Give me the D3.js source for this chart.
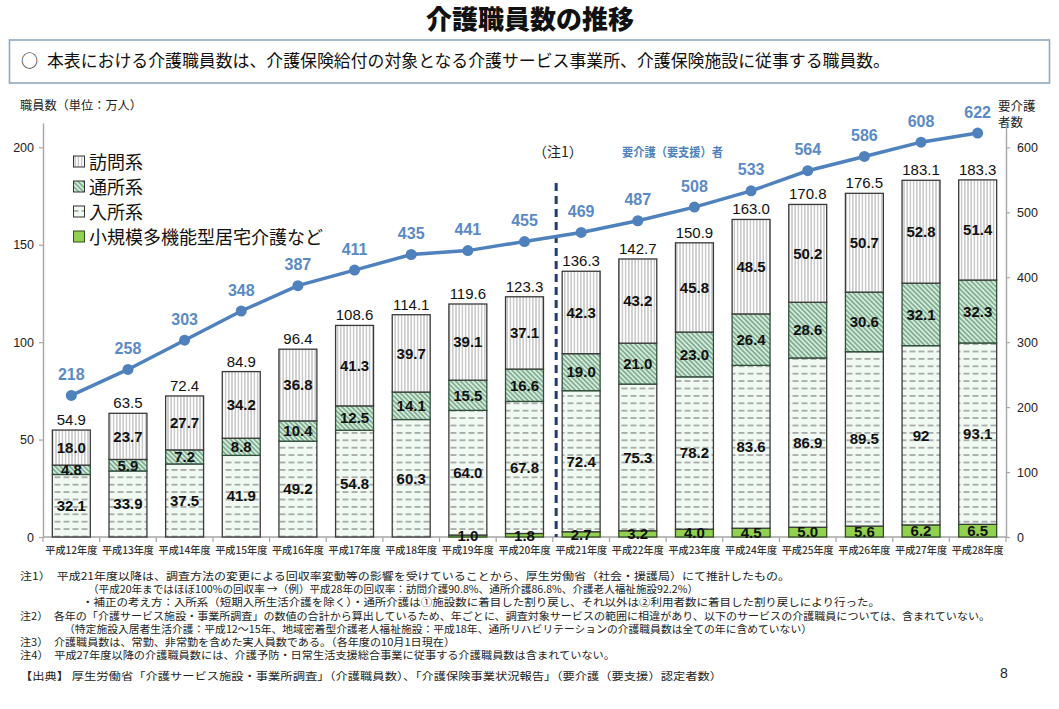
<!DOCTYPE html>
<html><head><meta charset="utf-8">
<script src="https://cdn.jsdelivr.net/npm/d3@7/dist/d3.min.js"></script>
<style>
html,body{margin:0;padding:0;background:#fff;}
svg{display:block;}
</style></head>
<body>
<svg id="chart" width="1059" height="709"></svg>
<script>
// ---------- DATA ----------
const categories = ["平成12年度","平成13年度","平成14年度","平成15年度","平成16年度","平成17年度","平成18年度","平成19年度","平成20年度","平成21年度","平成22年度","平成23年度","平成24年度","平成25年度","平成26年度","平成27年度","平成28年度"];
const homeCare    = ["18.0","23.7","27.7","34.2","36.8","41.3","39.7","39.1","37.1","42.3","43.2","45.8","48.5","50.2","50.7","52.8","51.4"]; // 訪問系
const dayCare     = ["4.8","5.9","7.2","8.8","10.4","12.5","14.1","15.5","16.6","19.0","21.0","23.0","26.4","28.6","30.6","32.1","32.3"]; // 通所系
const residential = ["32.1","33.9","37.5","41.9","49.2","54.8","60.3","64.0","67.8","72.4","75.3","78.2","83.6","86.9","89.5","92","93.1"]; // 入所系
const smallMulti  = ["","","","","","","","1.0","1.8","2.7","3.2","4.0","4.5","5.0","5.6","6.2","6.5"]; // 小規模多機能型居宅介護など
const totals      = ["54.9","63.5","72.4","84.9","96.4","108.6","114.1","119.6","123.3","136.3","142.7","150.9","163.0","170.8","176.5","183.1","183.3"];
const careRecipients = [218,258,303,348,387,411,435,441,455,469,487,508,533,564,586,608,622]; // 要介護(要支援)者
const leftTicks  = [0,50,100,150,200];
const rightTicks = [0,100,200,300,400,500,600];
const seriesNames = ["訪問系","通所系","入所系","小規模多機能型居宅介護など"];
const notes = [
  "注1）　平成21年度以降は、調査方法の変更による回収率変動等の影響を受けていることから、厚生労働省（社会・援護局）にて推計したもの。",
  "（平成20年まではほぼ100%の回収率 →（例）平成28年の回収率：訪問介護90.8%、通所介護86.8%、介護老人福祉施設92.2%）",
  "・補正の考え方：入所系（短期入所生活介護を除く）・通所介護は①施設数に着目した割り戻し、それ以外は②利用者数に着目した割り戻しにより行った。",
  "注2）　各年の「介護サービス施設・事業所調査」の数値の合計から算出しているため、年ごとに、調査対象サービスの範囲に相違があり、以下のサービスの介護職員については、含まれていない。",
  "（特定施設入居者生活介護：平成12～15年、地域密着型介護老人福祉施設：平成18年、通所リハビリテーションの介護職員数は全ての年に含めていない）",
  "注3）　介護職員数は、常勤、非常勤を含めた実人員数である。（各年度の10月1日現在）",
  "注4）　平成27年度以降の介護職員数には、介護予防・日常生活支援総合事業に従事する介護職員数は含まれていない。",
  "【出典】 厚生労働省「介護サービス施設・事業所調査」（介護職員数）、「介護保険事業状況報告」（要介護（要支援）認定者数）"
];

// ---------- SETUP ----------
const svg = d3.select("#chart");
const JP = "'Noto Sans CJK JP','Noto Sans',sans-serif";
const NUM = "'Liberation Sans',Arial,sans-serif";
const NARROW = "'Liberation Sans Narrow','Arial Narrow','Liberation Sans',sans-serif";

const x = d3.scaleBand().domain(categories).range([43, 1006]).paddingInner(0.33).paddingOuter(0.165);
const yL = d3.scaleLinear().domain([0, 212.5]).range([537, 123]);
const yR = d3.scaleLinear().domain([0, 637.5]).range([537, 123]);

// patterns
const defs = svg.append("defs");
const pHome = defs.append("pattern").attr("id","pHome").attr("patternUnits","userSpaceOnUse").attr("width",3.2).attr("height",10);
pHome.append("rect").attr("width",3.2).attr("height",10).attr("fill","#ffffff");
pHome.append("line").attr("x1",1.6).attr("x2",1.6).attr("y1",0).attr("y2",10).attr("stroke","#8a8a8a").attr("stroke-width",0.8);

const pDay = defs.append("pattern").attr("id","pDay").attr("patternUnits","userSpaceOnUse").attr("width",3.4).attr("height",10).attr("patternTransform","rotate(-45)");
pDay.append("rect").attr("width",3.4).attr("height",10).attr("fill","#d3ecd9");
pDay.append("line").attr("x1",1.7).attr("x2",1.7).attr("y1",0).attr("y2",10).attr("stroke","#3d7558").attr("stroke-width",0.9);

const pRes = defs.append("pattern").attr("id","pRes").attr("patternUnits","userSpaceOnUse").attr("width",9).attr("height",7.4);
pRes.append("rect").attr("width",9).attr("height",7.4).attr("fill","#f1f9f3");
pRes.append("line").attr("x1",0.5).attr("x2",6.5).attr("y1",3.7).attr("y2",3.7).attr("stroke","#555").attr("stroke-width",0.9);

const fills = {home:"url(#pHome)", day:"url(#pDay)", res:"url(#pRes)", small:"#92d050"};
const strokes = {home:"#3a3a3a", day:"#2f4f3a", res:"#3a3a3a", small:"#2f4f1f"};

// ---------- TITLE & BOX ----------
svg.append("text").attr("x",530).attr("y",29).attr("text-anchor","middle")
  .attr("font-family",JP).attr("font-weight","900").attr("font-size",26).attr("fill","#111").text("介護職員数の推移");
svg.append("rect").attr("x",9.5).attr("y",40).attr("width",1040).attr("height",43)
  .attr("fill","#fff").attr("stroke","#8fa8bf").attr("stroke-width",1.6);
svg.append("text").attr("x",21).attr("y",67).attr("font-family",JP).attr("font-size",17).attr("fill","#111").text("○");
svg.append("text").attr("x",47).attr("y",67).attr("font-family",JP).attr("font-size",17).attr("fill","#111")
  .attr("textLength",843).attr("lengthAdjust","spacingAndGlyphs")
  .text("本表における介護職員数は、介護保険給付の対象となる介護サービス事業所、介護保険施設に従事する職員数。");

// axis titles
svg.append("text").attr("x",20).attr("y",110).attr("font-family",JP).attr("font-size",12).attr("fill","#222")
  .attr("textLength",122).attr("lengthAdjust","spacingAndGlyphs").text("職員数（単位：万人）");
svg.append("text").attr("x",998).attr("y",111).attr("font-family",JP).attr("font-size",12.5).attr("fill","#222").text("要介護");
svg.append("text").attr("x",998).attr("y",127).attr("font-family",JP).attr("font-size",12.5).attr("fill","#222").text("者数");

// ---------- AXES ----------
const axL = svg.append("g").attr("transform","translate(43,0)")
  .call(d3.axisLeft(yL).tickValues(leftTicks).tickSize(4).tickSizeOuter(0).tickPadding(5));
const axR = svg.append("g").attr("transform","translate(1006,0)")
  .call(d3.axisRight(yR).tickValues(rightTicks).tickSize(4).tickSizeOuter(0).tickPadding(7));
[axL, axR].forEach(a => {
  a.select(".domain").attr("stroke","#a6a6a6").attr("stroke-width",1.4);
  a.selectAll(".tick line").attr("stroke","#a6a6a6").attr("stroke-width",1.2);
  a.selectAll(".tick text").attr("font-family",NUM).attr("font-size",12.5).attr("fill","#222");
});
// x axis
svg.append("line").attr("x1",43).attr("x2",1006).attr("y1",yL(0)).attr("y2",yL(0)).attr("stroke","#a6a6a6").attr("stroke-width",1.4);
const step = x.step();
const bStart = x(categories[0]) - x.paddingOuter()*step;
svg.append("g").selectAll("line").data(d3.range(categories.length+1)).join("line")
  .attr("x1",i=>bStart+i*step).attr("x2",i=>bStart+i*step)
  .attr("y1",yL(0)).attr("y2",yL(0)+5).attr("stroke","#a6a6a6").attr("stroke-width",1.2);
svg.append("g").selectAll("text").data(categories).join("text")
  .attr("x",d=>x(d)+x.bandwidth()/2).attr("y",554).attr("text-anchor","middle")
  .attr("font-family",JP).attr("font-weight","500").attr("font-size",10).attr("fill","#333")
  .attr("textLength",52).attr("lengthAdjust","spacingAndGlyphs").text(d=>d);

// ---------- BARS ----------
const rows = categories.map((c,i)=>({cat:c, small:+smallMulti[i]||0, res:+residential[i], day:+dayCare[i], home:+homeCare[i],
  lab:{small:smallMulti[i], res:residential[i], day:dayCare[i], home:homeCare[i]}}));
const keys = ["small","res","day","home"];
const stacked = d3.stack().keys(keys)(rows);
const gBars = svg.append("g");
stacked.forEach(layer => {
  const k = layer.key;
  gBars.append("g").selectAll("rect").data(layer.filter(d=>d[1]-d[0]>0)).join("rect")
    .attr("x",d=>x(d.data.cat)).attr("width",x.bandwidth())
    .attr("y",d=>yL(d[1])).attr("height",d=>yL(d[0])-yL(d[1]))
    .attr("fill",fills[k]).attr("stroke",strokes[k]).attr("stroke-width",1.3);
});
// segment labels
stacked.forEach(layer => {
  const k = layer.key;
  svg.append("g").selectAll("text").data(layer.filter(d=>d.data.lab[k]!=="")).join("text")
    .attr("x",d=>x(d.data.cat)+x.bandwidth()/2)
    .attr("y",d=>yL((d[0]+d[1])/2)+5.3)
    .attr("text-anchor","middle").attr("font-family",NARROW).attr("font-weight","bold").attr("font-size",15)
    .attr("fill","#111").text(d=>d.data.lab[k]);
});
// total labels
svg.append("g").selectAll("text").data(categories).join("text")
  .attr("x",d=>x(d)+x.bandwidth()/2).attr("y",(d,i)=>yL(+totals[i])-5)
  .attr("text-anchor","middle").attr("font-family",NUM).attr("font-size",15).attr("fill","#111")
  .text((d,i)=>totals[i]);

// dashed separator (注1)
const sepX = x(categories[9]) - 6;
svg.append("line").attr("x1",sepX).attr("x2",sepX).attr("y1",183).attr("y2",yL(0))
  .attr("stroke","#1f3d6e").attr("stroke-width",3).attr("stroke-dasharray","8,5");
svg.append("text").attr("x",533).attr("y",157).attr("font-family",JP).attr("font-size",14).attr("fill","#222").text("（注1）");
svg.append("text").attr("x",622).attr("y",157).attr("font-family",JP).attr("font-weight","bold").attr("font-size",12)
  .attr("fill","#4f81bd").attr("textLength",101).attr("lengthAdjust","spacingAndGlyphs").text("要介護（要支援）者");

// ---------- LINE ----------
const cx = i => x(categories[i]) + x.bandwidth()/2;
const line = d3.line().x((d,i)=>cx(i)).y(d=>yR(d));
svg.append("path").datum(careRecipients).attr("d",line).attr("fill","none")
  .attr("stroke","#4f81bd").attr("stroke-width",3.5);
svg.append("g").selectAll("circle").data(careRecipients).join("circle")
  .attr("cx",(d,i)=>cx(i)).attr("cy",d=>yR(d)).attr("r",5.5).attr("fill","#4f81bd");
svg.append("g").selectAll("text").data(careRecipients).join("text")
  .attr("x",(d,i)=>cx(i)).attr("y",d=>yR(d)-15.5).attr("text-anchor","middle")
  .attr("font-family",NUM).attr("font-weight","bold").attr("font-size",16).attr("fill","#5a8ac6")
  .text(d=>d);

// ---------- LEGEND ----------
const legFills = [fills.home, fills.day, fills.res, fills.small];
const legStrokes = ["#333","#333","#333","#2f4f1f"];
const lg = svg.append("g");
seriesNames.forEach((n,i)=>{
  const cy = 162 + i*25;
  lg.append("rect").attr("x",73.5).attr("y",cy-6).attr("width",11).attr("height",11)
    .attr("fill",legFills[i]).attr("stroke",legStrokes[i]).attr("stroke-width",1);
  lg.append("text").attr("x",89).attr("y",cy+6.5).attr("font-family",JP).attr("font-size",18).attr("fill","#111").text(n);
});

// ---------- NOTES ----------
const noteX = [20, 88, 82, 20, 64, 20, 20, 20];
const noteY = [580, 593, 606, 620, 633, 646, 659, 680];
const noteW = [770, 610, 798, 970, 748, 435, 595, 702];
svg.append("g").selectAll("text").data(notes).join("text")
  .attr("x",(d,i)=>noteX[i]).attr("y",(d,i)=>noteY[i])
  .attr("font-family",JP).attr("font-size",10.5).attr("fill","#222")
  .attr("textLength",(d,i)=>noteW[i]).attr("lengthAdjust","spacingAndGlyphs").text(d=>d);
svg.append("text").attr("x",1000).attr("y",678).attr("font-family",NUM).attr("font-size",14).attr("fill","#222").text("8");
</script>
</body></html>
